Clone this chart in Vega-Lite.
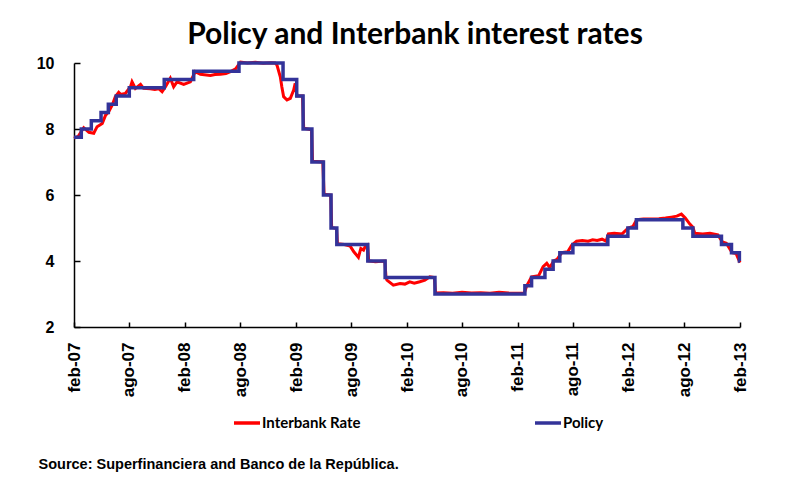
{
  "$schema": "https://vega.github.io/schema/vega-lite/v6.json",
  "width": 666,
  "height": 264,
  "autosize": "none",
  "padding": {"left": 74, "top": 63, "right": 71, "bottom": 151},
  "background": "white",
  "config": {"view": {"stroke": null}},
  "title": {"text": "Policy and Interbank interest rates", "font": "Lato", "fontSize": 30, "fontWeight": "bold", "color": "black", "anchor": "middle", "frame": "group", "baseline": "alphabetic", "offset": 16, "dx": 8, "dy": 35},
  "data": {"values": [
    {"d": "2007-02-01", "s": "Policy", "v": 7.75},
    {"d": "2007-02-25", "s": "Policy", "v": 8.0},
    {"d": "2007-03-30", "s": "Policy", "v": 8.25},
    {"d": "2007-05-01", "s": "Policy", "v": 8.5},
    {"d": "2007-05-25", "s": "Policy", "v": 8.75},
    {"d": "2007-06-20", "s": "Policy", "v": 9.0},
    {"d": "2007-08-02", "s": "Policy", "v": 9.25},
    {"d": "2007-11-25", "s": "Policy", "v": 9.5},
    {"d": "2008-03-01", "s": "Policy", "v": 9.75},
    {"d": "2008-07-28", "s": "Policy", "v": 10.0},
    {"d": "2008-12-20", "s": "Policy", "v": 9.5},
    {"d": "2009-02-03", "s": "Policy", "v": 9.0},
    {"d": "2009-02-24", "s": "Policy", "v": 8.0},
    {"d": "2009-03-25", "s": "Policy", "v": 7.0},
    {"d": "2009-05-02", "s": "Policy", "v": 6.0},
    {"d": "2009-05-27", "s": "Policy", "v": 5.0},
    {"d": "2009-06-15", "s": "Policy", "v": 4.5},
    {"d": "2009-09-25", "s": "Policy", "v": 4.0},
    {"d": "2009-11-21", "s": "Policy", "v": 3.5},
    {"d": "2010-05-04", "s": "Policy", "v": 3.0},
    {"d": "2011-02-24", "s": "Policy", "v": 3.25},
    {"d": "2011-03-18", "s": "Policy", "v": 3.5},
    {"d": "2011-05-01", "s": "Policy", "v": 3.75},
    {"d": "2011-05-28", "s": "Policy", "v": 4.0},
    {"d": "2011-06-19", "s": "Policy", "v": 4.25},
    {"d": "2011-08-01", "s": "Policy", "v": 4.5},
    {"d": "2011-11-24", "s": "Policy", "v": 4.75},
    {"d": "2012-01-29", "s": "Policy", "v": 5.0},
    {"d": "2012-02-26", "s": "Policy", "v": 5.25},
    {"d": "2012-07-28", "s": "Policy", "v": 5.0},
    {"d": "2012-08-30", "s": "Policy", "v": 4.75},
    {"d": "2012-12-02", "s": "Policy", "v": 4.5},
    {"d": "2013-01-04", "s": "Policy", "v": 4.25},
    {"d": "2013-01-30", "s": "Policy", "v": 4.0},
    {"d": "2013-02-01", "s": "Policy", "v": 4.0},
    {"d": "2007-02-01", "s": "Interbank Rate", "v": 7.72},
    {"d": "2007-02-15", "s": "Interbank Rate", "v": 7.78},
    {"d": "2007-03-05", "s": "Interbank Rate", "v": 8.04},
    {"d": "2007-03-22", "s": "Interbank Rate", "v": 7.9},
    {"d": "2007-04-07", "s": "Interbank Rate", "v": 7.87},
    {"d": "2007-04-18", "s": "Interbank Rate", "v": 8.07},
    {"d": "2007-05-05", "s": "Interbank Rate", "v": 8.17},
    {"d": "2007-05-16", "s": "Interbank Rate", "v": 8.42},
    {"d": "2007-05-26", "s": "Interbank Rate", "v": 8.52},
    {"d": "2007-06-07", "s": "Interbank Rate", "v": 8.73},
    {"d": "2007-06-17", "s": "Interbank Rate", "v": 8.98},
    {"d": "2007-06-28", "s": "Interbank Rate", "v": 9.11},
    {"d": "2007-07-04", "s": "Interbank Rate", "v": 9.05},
    {"d": "2007-07-20", "s": "Interbank Rate", "v": 9.08},
    {"d": "2007-08-06", "s": "Interbank Rate", "v": 9.28},
    {"d": "2007-08-11", "s": "Interbank Rate", "v": 9.43},
    {"d": "2007-08-22", "s": "Interbank Rate", "v": 9.23},
    {"d": "2007-09-08", "s": "Interbank Rate", "v": 9.35},
    {"d": "2007-09-18", "s": "Interbank Rate", "v": 9.23},
    {"d": "2007-10-10", "s": "Interbank Rate", "v": 9.22},
    {"d": "2007-10-25", "s": "Interbank Rate", "v": 9.2},
    {"d": "2007-11-07", "s": "Interbank Rate", "v": 9.22},
    {"d": "2007-11-18", "s": "Interbank Rate", "v": 9.13},
    {"d": "2007-11-29", "s": "Interbank Rate", "v": 9.28},
    {"d": "2007-12-15", "s": "Interbank Rate", "v": 9.54},
    {"d": "2007-12-26", "s": "Interbank Rate", "v": 9.28},
    {"d": "2008-01-06", "s": "Interbank Rate", "v": 9.43},
    {"d": "2008-01-28", "s": "Interbank Rate", "v": 9.35},
    {"d": "2008-02-19", "s": "Interbank Rate", "v": 9.43},
    {"d": "2008-03-06", "s": "Interbank Rate", "v": 9.74},
    {"d": "2008-03-23", "s": "Interbank Rate", "v": 9.66},
    {"d": "2008-04-25", "s": "Interbank Rate", "v": 9.62},
    {"d": "2008-05-10", "s": "Interbank Rate", "v": 9.65},
    {"d": "2008-05-28", "s": "Interbank Rate", "v": 9.66},
    {"d": "2008-06-15", "s": "Interbank Rate", "v": 9.68},
    {"d": "2008-06-30", "s": "Interbank Rate", "v": 9.74},
    {"d": "2008-07-17", "s": "Interbank Rate", "v": 9.82},
    {"d": "2008-08-02", "s": "Interbank Rate", "v": 10.03},
    {"d": "2008-08-25", "s": "Interbank Rate", "v": 10.0},
    {"d": "2008-09-20", "s": "Interbank Rate", "v": 10.02},
    {"d": "2008-10-15", "s": "Interbank Rate", "v": 9.99},
    {"d": "2008-11-10", "s": "Interbank Rate", "v": 10.01},
    {"d": "2008-11-24", "s": "Interbank Rate", "v": 10.0},
    {"d": "2008-11-30", "s": "Interbank Rate", "v": 9.94},
    {"d": "2008-12-11", "s": "Interbank Rate", "v": 9.58},
    {"d": "2008-12-16", "s": "Interbank Rate", "v": 9.28},
    {"d": "2008-12-22", "s": "Interbank Rate", "v": 8.98},
    {"d": "2009-01-02", "s": "Interbank Rate", "v": 8.88},
    {"d": "2009-01-13", "s": "Interbank Rate", "v": 8.93},
    {"d": "2009-01-24", "s": "Interbank Rate", "v": 9.18},
    {"d": "2009-01-29", "s": "Interbank Rate", "v": 9.38},
    {"d": "2009-02-04", "s": "Interbank Rate", "v": 9.0},
    {"d": "2009-02-22", "s": "Interbank Rate", "v": 9.0},
    {"d": "2009-02-26", "s": "Interbank Rate", "v": 8.02},
    {"d": "2009-03-24", "s": "Interbank Rate", "v": 7.98},
    {"d": "2009-03-27", "s": "Interbank Rate", "v": 7.02},
    {"d": "2009-04-30", "s": "Interbank Rate", "v": 7.0},
    {"d": "2009-05-04", "s": "Interbank Rate", "v": 6.02},
    {"d": "2009-05-26", "s": "Interbank Rate", "v": 6.0},
    {"d": "2009-05-29", "s": "Interbank Rate", "v": 5.02},
    {"d": "2009-06-14", "s": "Interbank Rate", "v": 4.98},
    {"d": "2009-06-17", "s": "Interbank Rate", "v": 4.52},
    {"d": "2009-07-10", "s": "Interbank Rate", "v": 4.5},
    {"d": "2009-07-29", "s": "Interbank Rate", "v": 4.45},
    {"d": "2009-08-10", "s": "Interbank Rate", "v": 4.28},
    {"d": "2009-08-25", "s": "Interbank Rate", "v": 4.11},
    {"d": "2009-09-02", "s": "Interbank Rate", "v": 4.38},
    {"d": "2009-09-11", "s": "Interbank Rate", "v": 4.33},
    {"d": "2009-09-16", "s": "Interbank Rate", "v": 4.43},
    {"d": "2009-09-24", "s": "Interbank Rate", "v": 4.48},
    {"d": "2009-09-28", "s": "Interbank Rate", "v": 4.0},
    {"d": "2009-10-20", "s": "Interbank Rate", "v": 3.98},
    {"d": "2009-11-20", "s": "Interbank Rate", "v": 4.0},
    {"d": "2009-11-24", "s": "Interbank Rate", "v": 3.5},
    {"d": "2009-11-27", "s": "Interbank Rate", "v": 3.42},
    {"d": "2009-12-18", "s": "Interbank Rate", "v": 3.27},
    {"d": "2010-01-09", "s": "Interbank Rate", "v": 3.32},
    {"d": "2010-01-25", "s": "Interbank Rate", "v": 3.3},
    {"d": "2010-02-10", "s": "Interbank Rate", "v": 3.37},
    {"d": "2010-02-25", "s": "Interbank Rate", "v": 3.33},
    {"d": "2010-03-15", "s": "Interbank Rate", "v": 3.37},
    {"d": "2010-04-01", "s": "Interbank Rate", "v": 3.42},
    {"d": "2010-04-17", "s": "Interbank Rate", "v": 3.52},
    {"d": "2010-05-02", "s": "Interbank Rate", "v": 3.5},
    {"d": "2010-05-06", "s": "Interbank Rate", "v": 3.03},
    {"d": "2010-06-01", "s": "Interbank Rate", "v": 3.04},
    {"d": "2010-07-01", "s": "Interbank Rate", "v": 3.02},
    {"d": "2010-08-01", "s": "Interbank Rate", "v": 3.05},
    {"d": "2010-09-01", "s": "Interbank Rate", "v": 3.03},
    {"d": "2010-10-01", "s": "Interbank Rate", "v": 3.04},
    {"d": "2010-11-01", "s": "Interbank Rate", "v": 3.02},
    {"d": "2010-12-01", "s": "Interbank Rate", "v": 3.05},
    {"d": "2011-01-01", "s": "Interbank Rate", "v": 3.03},
    {"d": "2011-02-22", "s": "Interbank Rate", "v": 3.02},
    {"d": "2011-03-02", "s": "Interbank Rate", "v": 3.25},
    {"d": "2011-03-18", "s": "Interbank Rate", "v": 3.52},
    {"d": "2011-04-10", "s": "Interbank Rate", "v": 3.55},
    {"d": "2011-04-25", "s": "Interbank Rate", "v": 3.83},
    {"d": "2011-05-07", "s": "Interbank Rate", "v": 3.93},
    {"d": "2011-05-17", "s": "Interbank Rate", "v": 3.8},
    {"d": "2011-05-30", "s": "Interbank Rate", "v": 4.0},
    {"d": "2011-06-10", "s": "Interbank Rate", "v": 4.05},
    {"d": "2011-06-25", "s": "Interbank Rate", "v": 4.25},
    {"d": "2011-07-15", "s": "Interbank Rate", "v": 4.28},
    {"d": "2011-07-28", "s": "Interbank Rate", "v": 4.48},
    {"d": "2011-08-13", "s": "Interbank Rate", "v": 4.6},
    {"d": "2011-09-01", "s": "Interbank Rate", "v": 4.62},
    {"d": "2011-09-20", "s": "Interbank Rate", "v": 4.6},
    {"d": "2011-10-05", "s": "Interbank Rate", "v": 4.64},
    {"d": "2011-10-20", "s": "Interbank Rate", "v": 4.62},
    {"d": "2011-11-05", "s": "Interbank Rate", "v": 4.66},
    {"d": "2011-11-18", "s": "Interbank Rate", "v": 4.6},
    {"d": "2011-11-26", "s": "Interbank Rate", "v": 4.82},
    {"d": "2011-12-15", "s": "Interbank Rate", "v": 4.84},
    {"d": "2012-01-10", "s": "Interbank Rate", "v": 4.82},
    {"d": "2012-01-30", "s": "Interbank Rate", "v": 5.0},
    {"d": "2012-02-15", "s": "Interbank Rate", "v": 5.05},
    {"d": "2012-02-27", "s": "Interbank Rate", "v": 5.25},
    {"d": "2012-03-20", "s": "Interbank Rate", "v": 5.27},
    {"d": "2012-04-15", "s": "Interbank Rate", "v": 5.27},
    {"d": "2012-05-10", "s": "Interbank Rate", "v": 5.28},
    {"d": "2012-06-01", "s": "Interbank Rate", "v": 5.3},
    {"d": "2012-06-20", "s": "Interbank Rate", "v": 5.33},
    {"d": "2012-07-08", "s": "Interbank Rate", "v": 5.36},
    {"d": "2012-07-23", "s": "Interbank Rate", "v": 5.42},
    {"d": "2012-08-05", "s": "Interbank Rate", "v": 5.3},
    {"d": "2012-08-20", "s": "Interbank Rate", "v": 5.12},
    {"d": "2012-08-30", "s": "Interbank Rate", "v": 5.02},
    {"d": "2012-09-05", "s": "Interbank Rate", "v": 4.84},
    {"d": "2012-10-01", "s": "Interbank Rate", "v": 4.82},
    {"d": "2012-10-25", "s": "Interbank Rate", "v": 4.84},
    {"d": "2012-11-20", "s": "Interbank Rate", "v": 4.79},
    {"d": "2012-12-05", "s": "Interbank Rate", "v": 4.58},
    {"d": "2012-12-18", "s": "Interbank Rate", "v": 4.54},
    {"d": "2013-01-06", "s": "Interbank Rate", "v": 4.25},
    {"d": "2013-01-19", "s": "Interbank Rate", "v": 4.23},
    {"d": "2013-02-01", "s": "Interbank Rate", "v": 3.95}
  ]},
  "encoding": {
    "x": {
      "field": "d", "type": "temporal",
      "scale": {"type": "utc", "domain": [{"year": 2007, "month": 2, "date": 1, "utc": true}, {"year": 2013, "month": 2, "date": 1, "utc": true}]},
      "axis": {
        "values": [
          {"year": 2007, "month": 2, "date": 1, "utc": true},
          {"year": 2007, "month": 8, "date": 1, "utc": true},
          {"year": 2008, "month": 2, "date": 1, "utc": true},
          {"year": 2008, "month": 8, "date": 1, "utc": true},
          {"year": 2009, "month": 2, "date": 1, "utc": true},
          {"year": 2009, "month": 8, "date": 1, "utc": true},
          {"year": 2010, "month": 2, "date": 1, "utc": true},
          {"year": 2010, "month": 8, "date": 1, "utc": true},
          {"year": 2011, "month": 2, "date": 1, "utc": true},
          {"year": 2011, "month": 8, "date": 1, "utc": true},
          {"year": 2012, "month": 2, "date": 1, "utc": true},
          {"year": 2012, "month": 8, "date": 1, "utc": true},
          {"year": 2013, "month": 2, "date": 1, "utc": true}
        ],
        "labelExpr": "(utcmonth(datum.value) == 1 ? 'feb' : 'ago') + '-' + utcFormat(datum.value, '%y')",
        "labelAngle": -90,
        "labelFont": "Liberation Sans", "labelFontWeight": "bold", "labelFontSize": 17, "labelColor": "black",
        "labelPadding": 20, "labelFlush": false, "labelOverlap": false, "labelBound": false,
        "tickSize": -5, "tickColor": "black", "tickWidth": 1.5,
        "domainColor": "black", "domainWidth": 1.5, "grid": false,
        "title": "Source: Superfinanciera and Banco de la República.",
        "titleFont": "Liberation Sans", "titleFontSize": 14.5, "titleFontWeight": "bold", "titleColor": "black",
        "titleAnchor": "start", "titleAlign": "left", "titleBaseline": "middle", "titleX": -36, "titleY": 137
      }
    },
    "y": {
      "field": "v", "type": "quantitative",
      "scale": {"domain": [2, 10], "nice": false, "zero": false},
      "axis": {
        "values": [2, 4, 6, 8, 10], "title": null, "grid": false,
        "labelFont": "Liberation Sans", "labelFontWeight": "bold", "labelFontSize": 16, "labelColor": "black",
        "labelPadding": 26, "tickSize": -6, "tickColor": "black", "tickWidth": 1.5,
        "domainColor": "black", "domainWidth": 1.5
      }
    },
    "color": {
      "field": "s", "type": "nominal",
      "scale": {"domain": ["Interbank Rate", "Policy"], "range": ["#FF0000", "#333399"]},
      "legend": {
        "orient": "none", "legendX": 158, "legendY": 345, "direction": "horizontal", "title": null,
        "symbolType": "stroke", "symbolSize": 676, "symbolStrokeWidth": 3.5,
        "labelFont": "Lato", "labelFontSize": 15, "labelFontWeight": "bold", "labelColor": "black",
        "labelOffset": 0, "columnPadding": 167
      }
    }
  },
  "layer": [
    {"transform": [{"filter": "datum.s === 'Interbank Rate'"}], "mark": {"type": "line", "strokeWidth": 3, "interpolate": "linear"}},
    {"transform": [{"filter": "datum.s === 'Policy'"}], "mark": {"type": "line", "strokeWidth": 3.5, "interpolate": "step-after"}}
  ]
}
